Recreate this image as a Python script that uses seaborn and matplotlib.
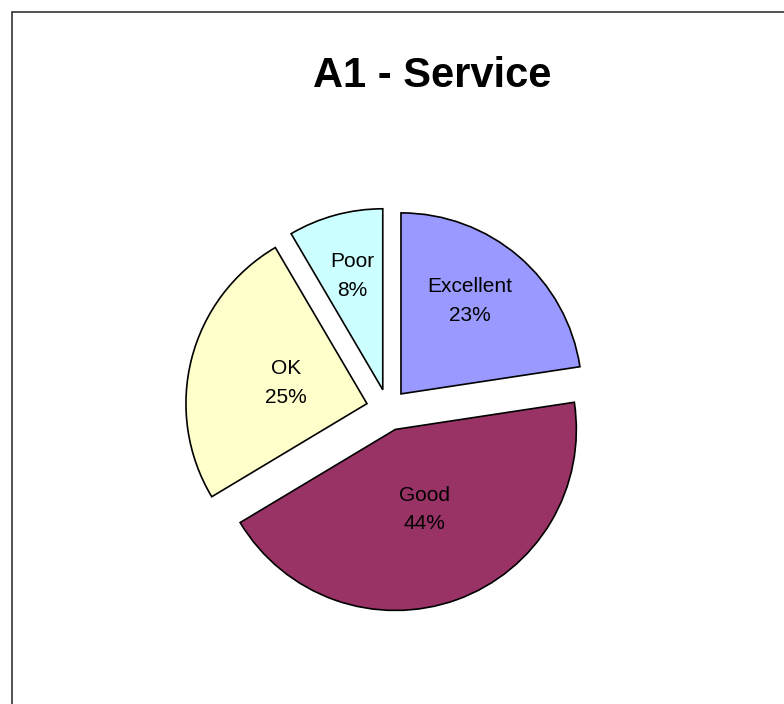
import numpy as np
import seaborn as sns
import matplotlib.pyplot as plt
from matplotlib.patches import Rectangle

categories = ['Excellent', 'Good', 'OK', 'Poor']
shares = [22.6, 43.8, 25.15, 8.45]
colors = ['#9999FF', '#993366', '#FFFFCC', '#CCFFFF']
label_dist = [0.64, 0.47, 0.46, 0.65]

sns.set_theme(style="white")
plt.rcParams['font.family'] = ['Liberation Sans', 'DejaVu Sans']

fig = plt.figure(figsize=(7.84, 7.04), dpi=100)
ax = fig.add_axes([0, 0, 1, 1])

wedges, _ = ax.pie(shares, colors=colors, startangle=90, counterclock=False,
                   explode=[0.11, 0.12, 0.12, 0.11], radius=1,
                   wedgeprops=dict(edgecolor='black', linewidth=1.2))

# centro del pastel en píxeles y radio (después de pie, que fija los límites)
cx, cy, r = 388, 409, 181
ax.set_xlim(-cx / r, (784 - cx) / r)
ax.set_ylim(-(704 - cy) / r, cy / r)
ax.set_aspect('auto')
ax.axis('off')

# Etiquetas dentro de cada porción
for w, cat, val, d in zip(wedges, categories, shares, label_dist):
    mid = np.deg2rad((w.theta1 + w.theta2) / 2 + (4 if cat == 'Excellent' else 0))
    x0, y0 = w.center
    ax.text(x0 + d * np.cos(mid), y0 + d * np.sin(mid), f'{cat}\n{round(val)}%',
            ha='center', va='center', fontsize=15, linespacing=1.65, color='black')

fig.text(432 / 784, 1 - 76 / 704, 'A1 - Service', ha='center', va='center',
         fontsize=30, fontweight='bold', color='black')

fig.patches.append(Rectangle((12 / 784, -0.1), 1.2, (704 - 12) / 704 + 0.1,
                             transform=fig.transFigure, fill=False,
                             edgecolor='#222222', linewidth=1.1))

fig.savefig('out.png', dpi=100)
